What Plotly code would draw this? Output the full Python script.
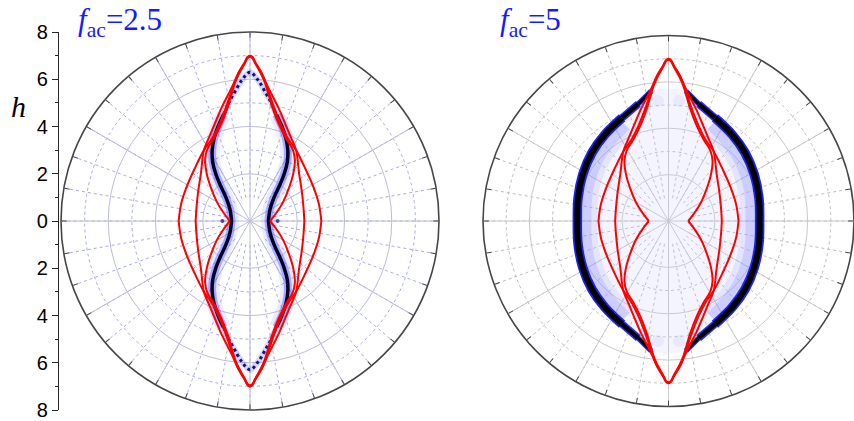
import plotly.graph_objects as go

# ---------------- data ----------------
# left vertical scale h
h_ticks = [-8, -6, -4, -2, 0, 2, 4, 6, 8]
h_labels = ["8", "6", "4", "2", "0", "2", "4", "6", "8"]
h_minor = [-7, -5, -3, -1, 1, 3, 5, 7]

titles = ["<i>f</i><sub>ac</sub>=2.5", "<i>f</i><sub>ac</sub>=5"]

# red boundary curves, one quadrant each (angle from top, clockwise, degrees ; radius h)
outer_theta = [0, 0.83, 1.97, 4.57, 6.69, 9.11, 12.00, 17.59, 24.57, 33.02, 46.89, 62.59, 76.52, 90]
outer_r = [7.0, 6.941, 6.704, 6.270, 5.840, 5.368, 4.907, 4.301, 3.848, 3.578, 3.219, 3.041, 3.003, 3.02]

kink_theta = [0, 0.83, 1.97, 4.57, 6.88, 10.16, 14.04, 20.09, 26.57, 33.02, 46.13, 61.39, 77.58, 90]
kink_r = [7.0, 6.941, 6.704, 6.270, 5.842, 5.384, 4.948, 4.366, 3.913, 3.578, 2.886, 2.506, 2.324, 2.30]

cusp_theta = [0, 0.83, 1.98, 4.43, 6.39, 8.58, 11.19, 16.57, 23.47, 30.55, 36.16, 42.46, 49.69, 60.26, 72.65, 90]
cusp_r = [6.95, 6.901, 6.654, 6.219, 5.836, 5.360, 4.893, 4.278, 3.816, 3.542, 3.220, 2.711, 2.164, 1.612, 1.173, 0.85]

# density ridge, f_ac = 2.5 (hourglass), one quadrant
ridge25_theta = [0, 3.37, 6.80, 10.20, 13.98, 18.65, 23.47, 28.07, 32.29, 35.94, 39.81, 45.57, 59.53, 90]
ridge25_r = [6.3, 5.960, 5.489, 5.080, 4.637, 4.222, 3.816, 3.400, 2.957, 2.470, 1.953, 1.428, 0.986, 0.78]
ridge25_dotted_upto = 4  # dotted tip part (index)
spot25_theta = [90, 270]
spot25_r = [1.17, 1.17]

# density ridge, f_ac = 5 (open lemon), one quadrant
ridge5_theta = [7.63, 14.44, 24.20, 36.47, 48.20, 61.61, 75.62, 90]
ridge5_r = [5.650, 5.215, 4.879, 4.626, 4.426, 4.206, 4.026, 3.93]
glow5_r = [5.45, 4.95, 4.55, 4.27, 4.07, 3.86, 3.68, 3.58]
spot5_theta = [5, -5, 175, 185]
spot5_r = [5.2, 5.2, 5.2, 5.2]


# ---------------- helpers ----------------
def halves(qt, qr):
    ut = list(qt[::-1]) + [-v for v in qt[1:]]
    ur = list(qr[::-1]) + list(qr[1:])
    lt = [180 - v for v in ut]
    return ut + [None] + lt, ur + [None] + ur


def sides(qt, qr):
    rt = list(qt) + [180 - v for v in qt[::-1]]
    rr = list(qr) + list(qr[::-1])
    lt = [-v for v in rt]
    return rt + [None] + lt, rr + [None] + rr


def quads(qt, qr):
    t, r = [], []
    for f in (lambda v: v, lambda v: 180 - v, lambda v: -v, lambda v: v - 180):
        t += [f(v) for v in qt] + [None]
        r += list(qr) + [None]
    return t, r


def closed(qt, qr):
    t = list(qt) + [180 - v for v in qt[::-1]] + [180 + v for v in qt] + [360 - v for v in qt[::-1]]
    r = list(qr) + list(qr[::-1]) + list(qr) + list(qr[::-1])
    return t + [t[0]], r + [r[0]]


def tips(qt, qr):
    tt = [-v for v in qt[::-1]] + list(qt[1:])
    tr = list(qr[::-1]) + list(qr[1:])
    bt = [180 - v for v in tt]
    return tt + [None] + bt, tr + [None] + tr


fig = go.Figure()

W, H = 854, 421
RED = "rgb(255,0,0)"


def add(trace, sub):
    trace.update(subplot=sub, showlegend=False, hoverinfo="skip")
    fig.add_trace(trace)


# grid-only polars need a trace
for sub in ["polar", "polar4"]:
    add(go.Scatterpolar(r=[None], theta=[None], mode="markers"), sub)

# ---------- left: f_ac = 2.5 ----------
d = ridge25_dotted_upto
st, sr = sides(ridge25_theta[d:], ridge25_r[d:])
add(go.Scatterpolar(r=sr, theta=st, mode="lines", line=dict(color="rgba(130,130,255,0.16)", width=15, shape="spline")), "polar2")
add(go.Scatterpolar(r=sr, theta=st, mode="lines", line=dict(color="rgba(70,70,255,0.4)", width=8, shape="spline")), "polar2")
add(go.Scatterpolar(r=sr, theta=st, mode="lines", line=dict(color="rgb(0,0,40)", width=3.5, shape="spline")), "polar2")
tt, tr = tips(ridge25_theta[:d + 1], ridge25_r[:d + 1])
add(go.Scatterpolar(r=tr, theta=tt, mode="lines", line=dict(color="rgba(90,90,255,0.25)", width=6, shape="spline")), "polar2")
add(go.Scatterpolar(r=tr, theta=tt, mode="lines", line=dict(color="rgb(20,20,120)", width=3, dash="dot", shape="spline")), "polar2")
add(go.Scatterpolar(r=spot25_r, theta=spot25_theta, mode="markers", marker=dict(color="rgba(30,30,160,0.8)", size=4)), "polar2")

for qt, qr in [(outer_theta, outer_r), (kink_theta, kink_r), (cusp_theta, cusp_r)]:
    t, r = halves(qt, qr)
    add(go.Scatterpolar(r=r, theta=t, mode="lines", line=dict(color=RED, width=2, shape="spline")), "polar2")

# ---------- right: f_ac = 5 ----------
ct, cr = closed(ridge5_theta, ridge5_r)
add(go.Scatterpolar(r=cr, theta=ct, mode="lines", fill="toself", fillcolor="rgba(205,205,255,0.22)",
                    line=dict(width=0, shape="spline")), "polar5")
add(go.Scatterpolar(r=spot5_r, theta=spot5_theta, mode="markers",
                    marker=dict(color="rgba(170,170,255,0.15)", size=12, line=dict(width=0))), "polar5")
gt, gr = sides(ridge5_theta[2:], glow5_r[2:])
add(go.Scatterpolar(r=gr, theta=gt, mode="lines", line=dict(color="rgba(120,120,255,0.13)", width=24, shape="spline")), "polar5")
add(go.Scatterpolar(r=gr, theta=gt, mode="lines", line=dict(color="rgba(100,100,255,0.18)", width=12, shape="spline")), "polar5")
# ridge drawn in three parts so that it thins towards its open ends
for a, b, wb, wk in [(0, 2, 5.5, 3.0), (1, 3, 7.5, 4.5)]:
    qt5, qr5 = quads(ridge5_theta[a:b], ridge5_r[a:b])
    add(go.Scatterpolar(r=qr5, theta=qt5, mode="lines", line=dict(color="rgb(40,40,255)", width=wb)), "polar5")
    add(go.Scatterpolar(r=qr5, theta=qt5, mode="lines", line=dict(color="rgb(0,0,0)", width=wk)), "polar5")
bt, br = sides(ridge5_theta[2:], ridge5_r[2:])
add(go.Scatterpolar(r=br, theta=bt, mode="lines", line=dict(color="rgb(30,30,255)", width=9.5, shape="spline")), "polar5")
add(go.Scatterpolar(r=br, theta=bt, mode="lines", line=dict(color="rgb(0,0,0)", width=6, shape="spline")), "polar5")

for qt, qr in [(outer_theta, outer_r), (kink_theta, kink_r), (cusp_theta, cusp_r)]:
    t, r = halves(qt, qr)
    add(go.Scatterpolar(r=r, theta=t, mode="lines", line=dict(color=RED, width=2, shape="spline")), "polar5")

# outline polars
for sub in ["polar3", "polar6"]:
    add(go.Scatterpolar(r=[None], theta=[None], mode="markers"), sub)

# ---------- left h axis ----------
fig.add_trace(go.Scatter(x=[None], y=[None], xaxis="x", yaxis="y", showlegend=False, hoverinfo="skip"))

# ---------------- layout ----------------
ydom = [11 / H, 389 / H]
left_dom = dict(x=[61 / W, 439 / W], y=ydom)
right_dom = dict(x=[483 / W, 1.0], y=ydom)


def dotted_polar(dom, dot_color):
    return dict(
        domain=dom, bgcolor="white", hole=0.125,
        radialaxis=dict(range=[1, 8], tickvals=[1, 3, 5, 7], showticklabels=False, ticks="",
                        showline=False, gridcolor=dot_color, griddash="dot", gridwidth=1),
        angularaxis=dict(rotation=90, direction="clockwise", tick0=0, dtick=10, showticklabels=False,
                         gridcolor=dot_color, griddash="dot", gridwidth=1, showline=False, ticks=""),
    )


def solid_polar(dom, solid_color):
    return dict(
        domain=dom, bgcolor="rgba(0,0,0,0)",
        radialaxis=dict(range=[0, 8], tickvals=[2, 4, 6], showticklabels=False, ticks="",
                        showline=False, gridcolor=solid_color, gridwidth=1),
        angularaxis=dict(rotation=90, direction="clockwise", tick0=0, dtick=30, showticklabels=False,
                         gridcolor=solid_color, gridwidth=1, showline=False, ticks=""),
    )


def outline_polar(dom):
    return dict(
        domain=dom, bgcolor="rgba(0,0,0,0)",
        radialaxis=dict(range=[0, 8], visible=False, showgrid=False),
        angularaxis=dict(rotation=90, direction="clockwise", tick0=0, dtick=10, showticklabels=False,
                         showgrid=False, showline=True, linecolor="rgb(70,70,70)", linewidth=1.6,
                         ticks="inside", ticklen=5, tickwidth=1.2, tickcolor="rgb(70,70,70)"),
    )


fig.update_layout(
    template="none",
    width=W, height=H, margin=dict(l=0, r=0, t=0, b=0, pad=0, autoexpand=False),
    paper_bgcolor="white", plot_bgcolor="rgba(0,0,0,0)", showlegend=False,
    polar=dotted_polar(left_dom, "rgb(170,170,235)"),
    polar2=solid_polar(left_dom, "rgb(188,188,218)"),
    polar3=outline_polar(left_dom),
    polar4=dotted_polar(right_dom, "rgb(190,190,190)"),
    polar5=solid_polar(right_dom, "rgb(202,202,202)"),
    polar6=outline_polar(right_dom),
    xaxis=dict(domain=[0, 0.01], visible=False, range=[0, 1], automargin=False),
    yaxis=dict(anchor="free", position=58 / W, domain=ydom, range=[-8, 8], automargin=False,
               tickvals=h_ticks, ticktext=h_labels, ticks="outside", ticklen=6, tickwidth=1.3,
               tickcolor="rgb(40,40,40)", showline=True, linecolor="rgb(40,40,40)", linewidth=1.3,
               showgrid=False, zeroline=False,
               minor=dict(tickvals=h_minor, ticks="outside", ticklen=3, tickcolor="rgb(40,40,40)", tickwidth=1.2),
               tickfont=dict(family="Liberation Sans, Arial, sans-serif", size=20, color="black")),
    font=dict(family="Liberation Sans, Arial, sans-serif"),
)

title_font = dict(family="Liberation Serif, Times New Roman, serif", size=31, color="rgb(25,25,255)")
fig.add_annotation(x=76 / W, y=1 - 0 / H, xref="paper", yref="paper", xanchor="left", yanchor="top",
                   text=titles[0], showarrow=False, font=title_font)
fig.add_annotation(x=498 / W, y=1 - 0 / H, xref="paper", yref="paper", xanchor="left", yanchor="top",
                   text=titles[1], showarrow=False, font=title_font)
fig.add_annotation(x=9 / W, y=1 - 107 / H, xref="paper", yref="paper", xanchor="left", yanchor="middle",
                   text="<i>h</i>", showarrow=False,
                   font=dict(family="Liberation Serif, Times New Roman, serif", size=30, color="black"))

fig.write_html("out.html")
